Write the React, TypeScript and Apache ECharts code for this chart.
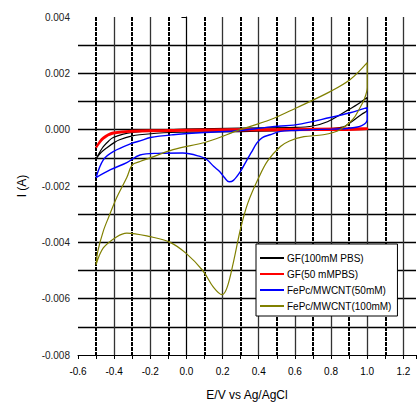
import React, { useEffect, useRef } from "react";
import * as echarts from "echarts";

// GF (100mM PBS) loop
const gf100E = [-0.5, -0.48, -0.46, -0.43, -0.405, -0.35, -0.3, -0.15, 0.0, 0.3, 0.6, 0.7, 0.78, 0.85, 0.9, 0.945, 1.0, 1.0, 0.97, 0.945, 0.9, 0.87, 0.8, 0.7, 0.5, 0.3, 0.0, -0.09, -0.26, -0.3, -0.37, -0.4, -0.44, -0.47, -0.5];
const gf100I = [-0.00103, -0.0008, -0.0006, -0.0004, -0.00028, -0.00016, -0.0001, -0.00001, 0.00002, 0.00006, 0.00008, 0.00013, 0.00028, 0.00053, 0.00072, 0.00089, 0.00114, 0.0007, 0.00055, 0.00043, 0.00022, 0.0001, 0.00004, 0.0, -0.00004, -0.00007, -0.00009, -0.0001, -0.00018, -0.00022, -0.00036, -0.00046, -0.00064, -0.0008, -0.00103];

// GF (50 mMPBS) loop
const gf50E = [-0.5, -0.48, -0.46, -0.43, -0.405, -0.3, -0.15, 0.0, 0.5, 1.0, 1.0, 0.5, 0.0, -0.3, -0.405, -0.46, -0.5];
const gf50I = [-0.00064, -0.00042, -0.00028, -0.00016, -0.0001, -0.00004, -0.00002, 0.0, 0.00002, 0.00005, 0.0, -0.00002, -0.00004, -0.00007, -0.00014, -0.00032, -0.00064];

// FePc/MWCNT (50mM) loop
const fe50E = [-0.5, -0.46, -0.405, -0.3, -0.257, -0.2, -0.074, 0.1, 0.297, 0.463, 0.61, 0.795, 0.906, 1.0, 1.0, 0.97, 0.9, 0.8, 0.7, 0.6, 0.52, 0.463, 0.42, 0.39, 0.36, 0.335, 0.297, 0.26, 0.236, 0.21, 0.186, 0.15, 0.114, 0.075, -0.02, -0.16, -0.257, -0.33, -0.42, -0.5];
const fe50I = [-0.0017, -0.00107, -0.00078, -0.00048, -0.0004, -0.00028, -0.00018, -0.0001, -0.00003, 0.0001, 0.00018, 0.00043, 0.0006, 0.00078, 0.00036, 0.00014, 0.00005, 0.00002, 0.0, -0.00003, -0.00006, -0.00018, -0.00028, -0.00047, -0.0008, -0.00107, -0.0015, -0.0018, -0.00185, -0.0017, -0.0015, -0.0013, -0.00107, -0.00095, -0.00083, -0.00084, -0.0009, -0.00117, -0.00142, -0.0017];

// FePc/MWCNT (100mM) loop
const fe100E = [-0.5, -0.49, -0.46, -0.43, -0.385, -0.33, -0.3, -0.257, -0.2, -0.074, 0.114, 0.297, 0.463, 0.61, 0.795, 0.906, 1.0, 1.0, 0.985, 0.96, 0.92, 0.85, 0.757, 0.65, 0.57, 0.52, 0.45, 0.4, 0.34, 0.3, 0.26, 0.225, 0.197, 0.15, 0.09, 0.0, -0.09, -0.2, -0.33, -0.385, -0.46, -0.5];
const fe100I = [-0.0048, -0.0043, -0.0036, -0.0031, -0.0024, -0.0017, -0.00125, -0.00113, -0.001, -0.00071, -0.00043, 0.0, 0.00035, 0.00078, 0.00135, 0.00178, 0.00238, 0.0015, 0.0011, 0.00078, 0.00036, 0.0, -0.00018, -0.00025, -0.0004, -0.0006, -0.0011, -0.0017, -0.0026, -0.0035, -0.0047, -0.0056, -0.00586, -0.0056, -0.005, -0.0044, -0.004, -0.0038, -0.00367, -0.0038, -0.0042, -0.0048];

const seriesNames = ["GF(100mM PBS)", "GF(50 mMPBS)", "FePc/MWCNT(50mM)", "FePc/MWCNT(100mM)"];
const seriesColors = ["#000000", "#ff0000", "#0000ff", "#808000"];

const yTicks = { min: -0.008, max: 0.004, interval: 0.002 };
const xTicks = { min: -0.6, max: 1.27, interval: 0.2 };

const zip = (e: number[], i: number[]) => e.map((v, k) => [v, i[k]]);

export default function App() {
  const ref = useRef<HTMLDivElement>(null);
  useEffect(() => {
    if (!ref.current) return;
    document.body.style.margin = "0";
    const chart = echarts.init(ref.current, null, { renderer: "svg" });
    const datasets = [zip(gf100E, gf100I), zip(gf50E, gf50I), zip(fe50E, fe50I), zip(fe100E, fe100I)];
    const widths = [1.2, 2, 1.4, 1.2];
    chart.setOption({
      animation: false,
      textStyle: { fontFamily: "Liberation Sans, Arial, sans-serif" },
      grid: { left: 78, right: 3, top: 17, bottom: 51 },
      xAxis: {
        type: "value",
        min: xTicks.min,
        max: xTicks.max,
        interval: xTicks.interval,
        name: "E/V vs Ag/AgCl",
        nameLocation: "middle",
        nameGap: 34,
        nameTextStyle: { fontSize: 12, color: "#000" },
        axisLine: { show: true, onZero: false, lineStyle: { color: "#000", width: 1 } },
        axisTick: { show: true, length: 4, lineStyle: { color: "#000" } },
        minorTick: { show: true, splitNumber: 2, length: 4, lineStyle: { color: "#000" } },
        axisLabel: {
          color: "#000",
          fontSize: 10,
          margin: 11,
          showMaxLabel: false,
          formatter: (v: number) => v.toFixed(1),
        },
        splitLine: { show: true, showMinLine: false, showMaxLine: false, lineStyle: { color: "#333", width: 1.3 } },
        minorSplitLine: { show: true, lineStyle: { color: "#000", width: 2, type: [4, 1] } },
      },
      yAxis: {
        type: "value",
        min: yTicks.min,
        max: yTicks.max,
        interval: yTicks.interval,
        name: "I (A)",
        nameLocation: "middle",
        nameGap: 50,
        nameTextStyle: { fontSize: 12, color: "#000" },
        axisLine: { show: true, lineStyle: { color: "#000", width: 1 } },
        axisTick: { show: true, length: 5, lineStyle: { color: "#000" } },
        minorTick: { show: true, splitNumber: 2, length: 3, lineStyle: { color: "#000" } },
        axisLabel: {
          color: "#222",
          fontSize: 10,
          margin: 8,
          formatter: (v: number) => v.toFixed(3),
        },
        splitLine: { show: true, showMinLine: false, showMaxLine: false, lineStyle: { color: "#000", width: 1.3 } },
        minorSplitLine: { show: true, lineStyle: { color: "#000", width: 1.3 } },
      },
      legend: {
        orient: "vertical",
        left: 256,
        top: 244,
        width: 134,
        padding: [9, 6, 5, 4],
        itemGap: 6,
        itemWidth: 24,
        itemHeight: 2,
        icon: "rect",
        backgroundColor: "#fff",
        borderColor: "#000",
        borderWidth: 1,
        borderRadius: 0,
        textStyle: { fontSize: 10, color: "#000", padding: [0, 0, 0, -2] },
        data: seriesNames,
      },
      series: seriesNames.map((name, k) => ({
        name,
        type: "line",
        data: datasets[k],
        showSymbol: false,
        symbol: "none",
        smooth: 0.35,
        lineStyle: { color: seriesColors[k], width: widths[k] },
        itemStyle: { color: seriesColors[k] },
        z: 3 + k,
      })),
    });
    return () => chart.dispose();
  }, []);
  return <div ref={ref} style={{ width: 419, height: 406 }} />;
}
